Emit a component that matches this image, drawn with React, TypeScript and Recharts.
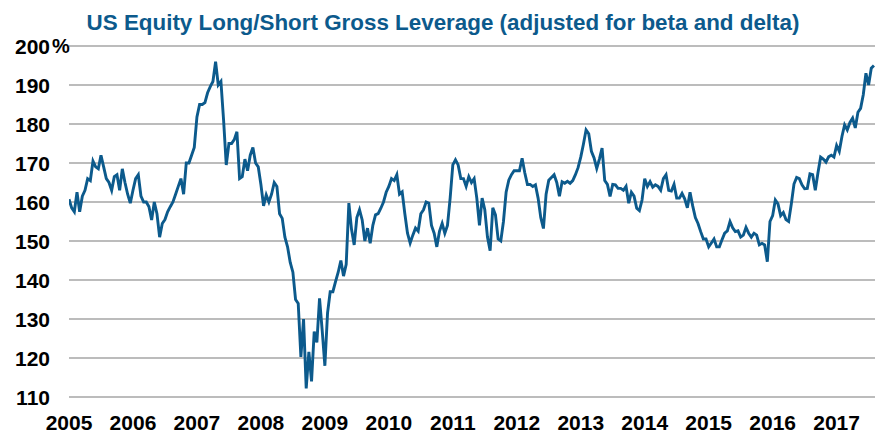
import { LineChart, Line, XAxis, YAxis, CartesianGrid } from 'recharts';

// semi-monthly readings, 24 per year
const y2005 = [160.7, 158.5, 157.5, 162.5, 157.5, 161.5, 163, 166, 165.5, 170.5, 169, 168.5, 172, 169, 166, 165, 163, 166.5, 167, 163, 168.5, 165, 162, 159.7];
const y2006 = [163, 166, 167, 161.5, 160, 160, 158.8, 155.4, 160, 157, 151, 154.5, 155.5, 157.5, 158.8, 160, 162, 164, 166, 162, 170, 170, 172, 174];
const y2007 = [181.8, 185, 185, 185.5, 188, 189.6, 190.9, 196, 190, 190.9, 181, 169.5, 175, 175, 176, 178, 166, 166.5, 171, 168, 172, 174, 170, 169];
const y2008 = [164.5, 159, 161.8, 160, 162, 165, 164, 157, 155.8, 151, 148.5, 144.5, 142, 135, 134, 120.3, 130, 112.2, 121.6, 114, 126.8, 124, 135.3, 127];
const y2009 = [118, 131.5, 137, 137, 139.6, 142, 145, 141, 144, 159.7, 153, 149, 156, 158, 155.4, 150, 153.3, 149.4, 154, 156.7, 157, 158.4, 160, 162.5];
const y2010 = [164, 166, 165.5, 167, 162, 162.6, 157, 152, 149.5, 151.5, 153.3, 152.5, 157, 158, 160, 159.7, 154, 152, 148.5, 152.5, 154.5, 152, 154, 161];
const y2011 = [169.5, 170.8, 169.5, 166, 166, 164, 166.5, 165, 166, 161, 154, 161, 158, 151, 147.5, 158.5, 156.7, 150.5, 150, 155, 162.5, 165.6, 167, 168];
const y2012 = [168, 168, 171.2, 167.5, 164.5, 164.5, 164, 164.4, 161, 156, 153.2, 162, 165.6, 166.3, 167, 165, 161.5, 165.2, 164.8, 165.3, 164.8, 165.5, 167, 168.8];
const y2013 = [171.5, 174.8, 178.5, 177.5, 173, 171.3, 168.6, 171, 173.8, 165.5, 164.5, 161.4, 164.5, 164.4, 163.5, 163.5, 163, 164, 159.7, 162.5, 161.5, 158.4, 157.8, 160.5];
const y2014 = [166, 164, 165.2, 163.8, 164.4, 164, 163, 166, 167, 163, 162.8, 164.5, 161, 161, 162.2, 160.8, 158.5, 162.5, 159, 156, 154.5, 152.4, 150.5, 150.5];
const y2015 = [148.5, 149.5, 150.5, 148.5, 148.5, 150.3, 152, 152.6, 155, 153.4, 152.4, 152.6, 151, 151.5, 153.5, 152, 151, 152, 151.5, 149, 149.4, 149, 144.7, 155];
const y2016 = [156.5, 160.5, 159.5, 156.5, 157.3, 155.5, 155, 159.5, 164.6, 166.3, 166, 164.4, 163.4, 163.5, 167.2, 167, 163, 167.5, 171.5, 171, 170.2, 171.6, 172, 171.5];
const y2017 = [174.5, 173, 176.8, 179.8, 178.5, 180.4, 181.5, 179, 183, 184, 187.5, 193, 190, 194.3, 195];

const years = [2005, 2006, 2007, 2008, 2009, 2010, 2011, 2012, 2013, 2014, 2015, 2016, 2017];
const series = [y2005, y2006, y2007, y2008, y2009, y2010, y2011, y2012, y2013, y2014, y2015, y2016, y2017];
const yTicks = [110, 120, 130, 140, 150, 160, 170, 180, 190, 200];

const data = series.flatMap((vals, i) =>
  vals.map((v, j) => ({ x: years[i] + j / 24, v }))
);

const BLUE = '#0c5a8c';
const FONT = 'Arial, "Liberation Sans", sans-serif';

const YTick = ({ x, y, payload }: any) => (
  <g>
    <text x={x} y={y} dy="0.36em" textAnchor="end" fontSize={21} fontWeight="bold" fill="#000" fontFamily={FONT}>
      {payload.value}
    </text>
    {payload.value === 200 && (
      <text x={x + 2} y={y} dy="0.36em" textAnchor="start" fontSize={20} fontWeight="bold" fill="#000" fontFamily={FONT}>
        %
      </text>
    )}
  </g>
);

export default function App() {
  return (
    <div style={{ position: 'absolute', left: 0, top: 0, width: 875, height: 433, background: '#fff' }}>
      <div
        style={{
          position: 'absolute',
          top: 10,
          left: 0,
          width: 886,
          textAlign: 'center',
          fontFamily: FONT,
          fontWeight: 'bold',
          fontSize: 22.4,
          lineHeight: '26px',
          color: BLUE,
          whiteSpace: 'nowrap',
        }}
      >
        US Equity Long/Short Gross Leverage (adjusted for beta and delta)
      </div>
      <LineChart width={875} height={433} data={data} margin={{ top: 46, right: 0, bottom: 0, left: 0 }}>
        <CartesianGrid horizontal vertical={false} stroke="#a6a6a6" strokeWidth={1.5} />
        <XAxis
          type="number"
          dataKey="x"
          domain={[2005, 2017.6]}
          ticks={years}
          allowDataOverflow
          height={36}
          axisLine={false}
          tickLine={false}
          tickSize={0}
          tickMargin={18}
          interval={0}
          tick={{ fontSize: 21, fontWeight: 'bold', fill: '#000', fontFamily: FONT }}
        />
        <YAxis
          domain={[110, 200]}
          ticks={yTicks}
          width={69}
          axisLine={false}
          tickLine={false}
          tickSize={0}
          tickMargin={19}
          interval={0}
          tick={<YTick />}
        />
        <Line type="linear" dataKey="v" stroke={BLUE} strokeWidth={2.9} dot={false} isAnimationActive={false} />
      </LineChart>
    </div>
  );
}
